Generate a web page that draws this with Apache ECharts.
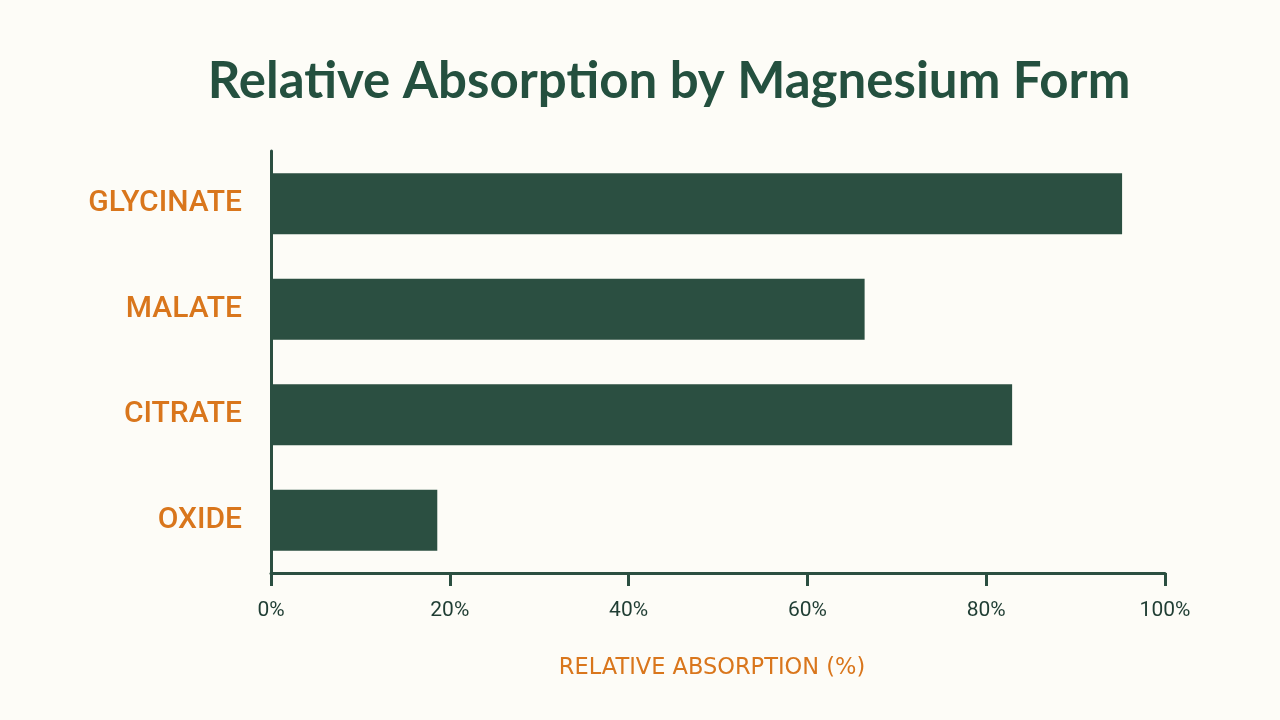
<!DOCTYPE html>
<html>
<head>
<meta charset="utf-8">
<script src="https://cdn.jsdelivr.net/npm/echarts@6/dist/echarts.min.js"></script>
<style>
  html, body { margin: 0; padding: 0; background: #fdfcf7; }
  #main { width: 1280px; height: 720px; }
</style>
</head>
<body>
<div id="main"></div>
<script>
// magnesium forms, top to bottom
const forms = ['GLYCINATE', 'MALATE', 'CITRATE', 'OXIDE']
const absorption = [95.2, 66.4, 82.9, 18.6]
const xTicks = [0, 20, 40, 60, 80, 100]

const green = '#2b4f41'
const orange = '#d9761c'

const chart = echarts.init(document.getElementById('main'))
const option = {
  backgroundColor: '#fdfcf7',
  title: [
    {
      text: 'Relative Absorption by Magnesium Form',
      left: 664,
      top: 51,
      textAlign: 'center',
      textStyle: { color: '#24503f', fontFamily: 'Lato', fontWeight: 'bold', fontSize: 51 }
    },
    {
      // axis name sits a bit left of the grid centre, so it is a title here
      text: 'RELATIVE ABSORPTION (%)',
      left: 707,
      top: 652,
      textAlign: 'center',
      textStyle: { color: orange, fontFamily: 'DejaVu Sans', fontWeight: 'normal', fontSize: 22.5 }
    }
  ],
  grid: {
    left: 271,
    top: 151,
    width: 894,
    height: 422
  },
  xAxis: {
    type: 'value',
    min: xTicks[0],
    max: xTicks[xTicks.length - 1],
    interval: 20,
    splitLine: { show: false },
    axisLine: { show: true, lineStyle: { color: green, width: 3 } },
    axisTick: { show: true, length: 13, lineStyle: { color: green, width: 3 } },
    axisLabel: {
      formatter: v => v + '%',
      color: '#1f3d33',
      fontFamily: 'Roboto',
      fontSize: 21,
      margin: 27
    }
  },
  yAxis: {
    type: 'category',
    data: forms,
    inverse: true,
    axisLine: { show: true, lineStyle: { color: green, width: 3 } },
    axisTick: { show: false },
    axisLabel: {
      color: orange,
      fontFamily: 'Roboto',
      fontWeight: 500,
      fontSize: 30,
      margin: 29
    }
  },
  series: [{
    type: 'bar',
    data: absorption,
    barWidth: 61,
    itemStyle: { color: green },
    silent: true
  }]
}
chart.setOption(option)
</script>
</body>
</html>
